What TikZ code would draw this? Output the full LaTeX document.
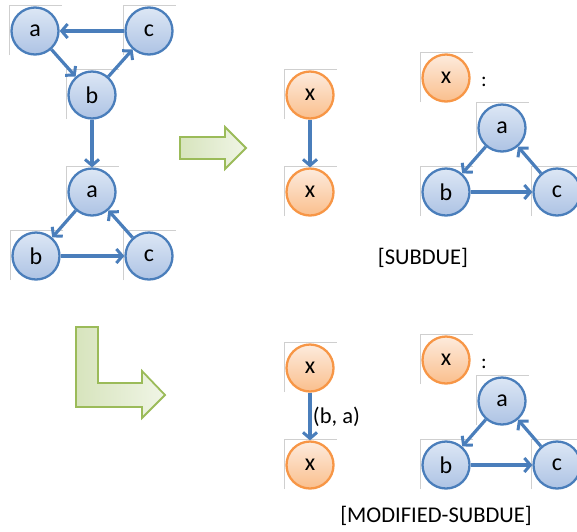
\documentclass[tikz,border=0pt]{standalone}
\usepackage{fontspec}
\setmainfont{Carlito}
\usetikzlibrary{arrows.meta,backgrounds}

\definecolor{nodeblue}{HTML}{4A7EBB}
\definecolor{bluetop}{HTML}{DDE7F5}
\definecolor{bluebot}{HTML}{ADC3E4}
\definecolor{nodeorange}{HTML}{F79646}
\definecolor{orangetop}{HTML}{FDEBDD}
\definecolor{orangebot}{HTML}{FABF8D}
\definecolor{arrowgreen}{HTML}{9BBB59}
\definecolor{greenleft}{HTML}{D7E4BD}
\definecolor{greenright}{HTML}{F0F5E6}
\definecolor{framegray}{HTML}{CFCFCF}

\tikzset{
  vtx/.style={circle, minimum size=47pt, inner sep=0pt, line width=2.3pt,
    font=\fontsize{24}{25}\selectfont},
  bluevtx/.style={vtx, draw=nodeblue, top color=bluetop, bottom color=bluebot},
  orangevtx/.style={vtx, draw=nodeorange, top color=orangetop, bottom color=orangebot},
  link/.style={draw=nodeblue, line width=3.2pt,
    -{Straight Barb[length=6pt,width=14pt,line width=3pt]}},
  framecorner/.style={draw=framegray, line width=0.7pt},
  bigarrow/.style={draw=arrowgreen, line width=1.8pt, line join=miter,
    left color=greenleft, right color=greenright},
  caption/.style={font=\fontsize{22.5}{24}\selectfont}
}

\begin{document}
\begin{tikzpicture}[x=1pt, y=-1pt]
\useasboundingbox (0,0) rectangle (577,531);

% input graph: upper triangle
\node[bluevtx] (ua) at (35,31) {a};
\node[bluevtx] (uc) at (149,31) {c};
\node[bluevtx] (ub) at (92,95) {b};
% input graph: lower triangle
\node[bluevtx] (la) at (92,192) {a};
\node[bluevtx] (lb) at (36,256) {b};
\node[bluevtx] (lc) at (149,256) {c};

\draw[link] (uc) -- (ua);
\draw[link] (ua) -- (ub);
\draw[link] (ub) -- (uc);
\draw[link] (ub) -- (la);
\draw[link] (la) -- (lb);
\draw[link] (lb) -- (lc);
\draw[link] (lc) -- (la);

% SUBDUE result
\node[orangevtx] (sx1) at (310,95) {x};
\node[orangevtx] (sx2) at (310,192) {x};
\draw[link] (sx1) -- (sx2);

\node[orangevtx] (sdef) at (446,78) {x};
\node (scolon) at (484,82) {\fontsize{21}{22}\selectfont :};
\node[bluevtx] (sa) at (502,128) {a};
\node[bluevtx] (sb) at (446,192) {b};
\node[bluevtx] (sc) at (557,192) {c};
\draw[link] (sa) -- (sb);
\draw[link] (sb) -- (sc);
\draw[link] (sc) -- (sa);
\node[caption] (subcap) at (423,258) {[SUBDUE]};

% MODIFIED-SUBDUE result
\node[orangevtx] (mx1) at (310,368) {x};
\node[orangevtx] (mx2) at (310,465) {x};
\draw[link] (mx1) -- node[right, caption, xshift=-2pt] (elabel) {(b, a)} (mx2);

\node[orangevtx] (mdef) at (446,360) {x};
\node (mcolon) at (484,364) {\fontsize{21}{22}\selectfont :};
\node[bluevtx] (ma) at (502,401) {a};
\node[bluevtx] (mb) at (446,465) {b};
\node[bluevtx] (mc) at (557,465) {c};
\draw[link] (ma) -- (mb);
\draw[link] (mb) -- (mc);
\draw[link] (mc) -- (ma);
\node[caption] (modcap) at (436,516) {[MODIFIED-SUBDUE]};

% block arrows
\path[bigarrow] (180,137) -- (225,137) -- (225,127) -- (246,148)
  -- (225,169) -- (225,159) -- (180,159) -- cycle;
\path[bigarrow] (76,327) -- (98,327) -- (98,383) -- (142,383) -- (142,371)
  -- (165,395) -- (142,418) -- (142,407) -- (76,407) -- cycle;

% faint frame corners behind each vertex
\begin{pgfonlayer}{background}
\foreach \n in {ua,uc,ub,la,lb,lc,sx1,sx2,sdef,sa,sb,sc,mx1,mx2,mdef,ma,mb,mc}
  \draw[framecorner] ([shift={(-26,24)}]\n.center) -- ([shift={(-26,-26)}]\n.center)
    -- ([shift={(27,-26)}]\n.center);
\end{pgfonlayer}
\end{tikzpicture}
\end{document}
